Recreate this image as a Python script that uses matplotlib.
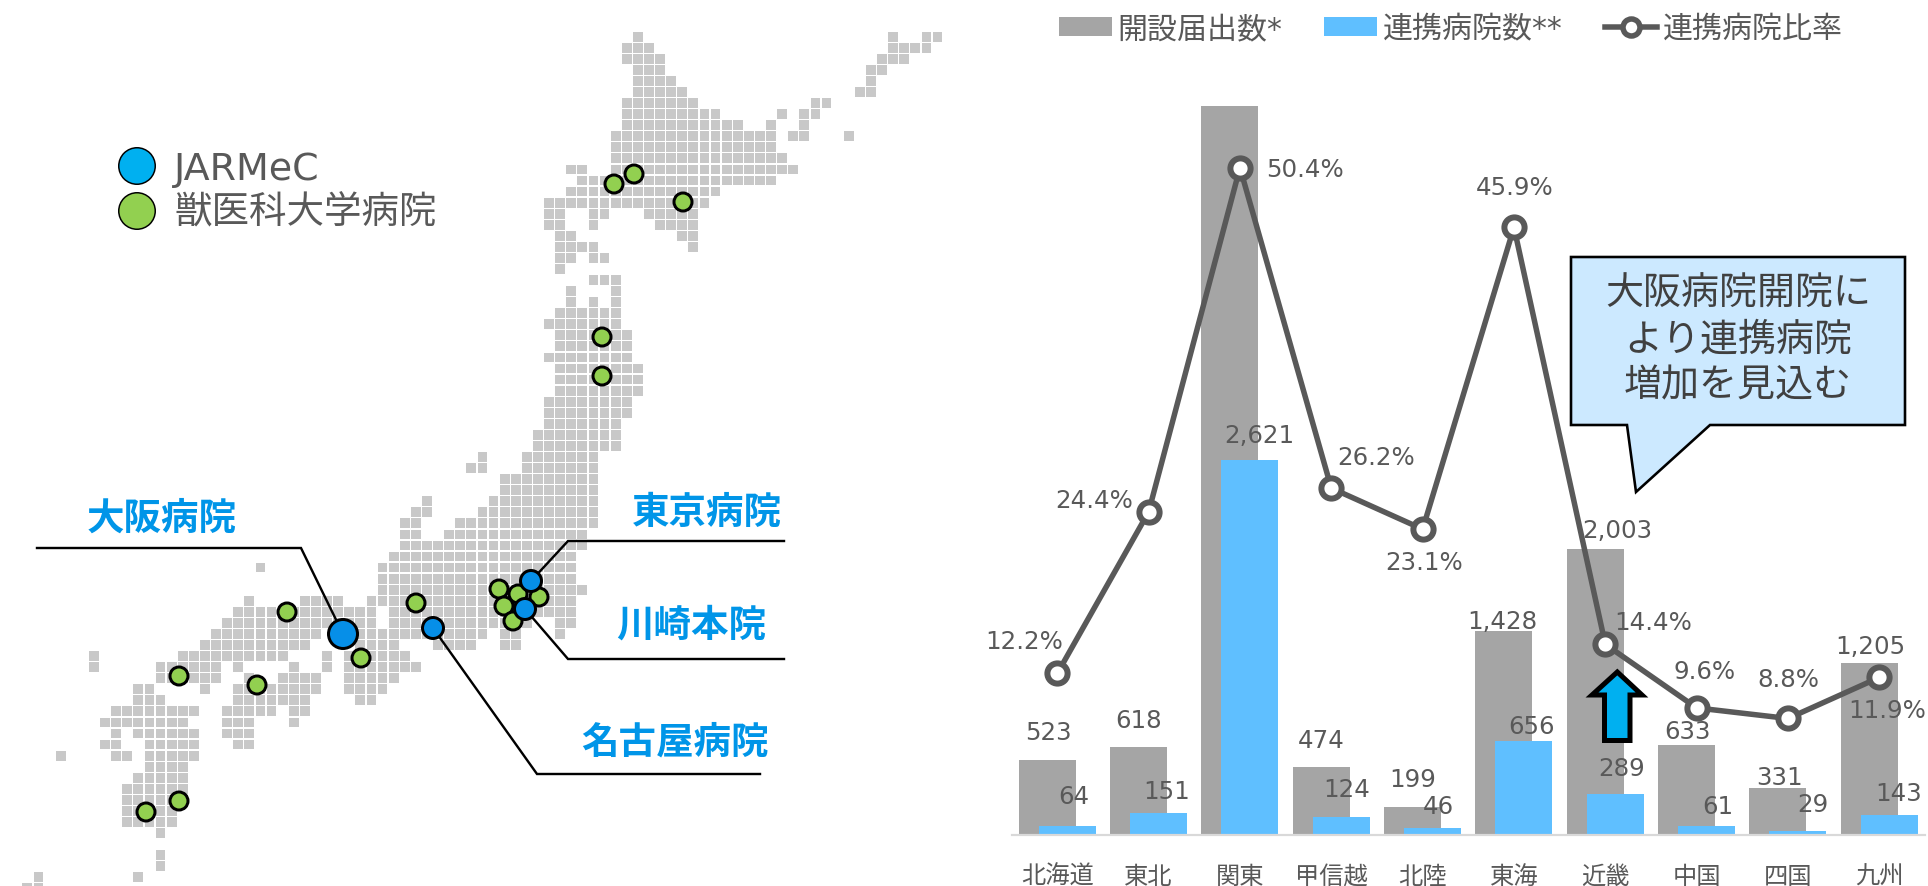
import matplotlib
matplotlib.use("Agg")
import matplotlib.pyplot as plt
from matplotlib.collections import PolyCollection
from matplotlib.lines import Line2D
from matplotlib.patches import Ellipse, Polygon, Patch

plt.rcParams['font.family'] = ['DejaVu Sans', 'Noto Sans CJK JP']

W, H = 1928, 887
PT = 72 / 100  # points per pixel at dpi 100

# ---------- chart data ----------
regions = ['北海道', '東北', '関東', '甲信越', '北陸', '東海', '近畿', '中国', '四国', '九州']
notified = [523, 618, 5200, 474, 199, 1428, 2003, 633, 331, 1205]
partners = [64, 151, 2621, 124, 46, 656, 289, 61, 29, 143]
ratio_pct = [12.2, 24.4, 50.4, 26.2, 23.1, 45.9, 14.4, 9.6, 8.8, 11.9]

series_names = ['開設届出数*', '連携病院数**', '連携病院比率']
callout_lines = ['大阪病院開院に', 'より連携病院', '増加を見込む']

# label centres in reference pixels (None: no visible label)
notified_label_px = [(1048, 733), (1139, 721), None, (1321, 741), (1413, 780),
                     (1502, 622), (1617, 531), (1688, 732), (1779, 778), (1870, 647)]
partners_label_px = [(1074, 797), (1167, 792), (1259, 436), (1347, 790), (1438, 807),
                     (1532, 727), (1622, 769), (1718, 807), (1813, 805), (1899, 794)]
ratio_label_px = [(1024, 642), (1094, 501), (1305, 170), (1376, 458), (1424, 563),
                  (1515, 188), (1653, 623), (1705, 672), (1788, 680), (1887, 711)]

# ---------- map data: row index -> occupied column runs ----------
map_rows = {
    0: [(8, 8), (31, 31), (34, 35)], 1: [(7, 9), (31, 34)], 2: [(7, 10), (30, 32)],
    3: [(8, 10), (29, 30)], 4: [(8, 11), (29, 29)], 5: [(8, 12), (28, 29)],
    6: [(7, 13), (24, 25)], 7: [(7, 15), (21, 21), (23, 24)], 8: [(7, 17), (20, 20), (23, 23)],
    9: [(6, 20), (22, 23), (27, 27)], 10: [(6, 20)], 11: [(6, 21)],
    12: [(2, 3), (6, 22)], 13: [(3, 20)], 14: [(2, 15)], 15: [(0, 14)],
    16: [(0, 1), (4, 5), (9, 13)], 17: [(0, 1), (4, 4), (10, 13)], 18: [(1, 2), (12, 13)],
    19: [(1, 4), (13, 13)], 20: [(1, 2), (4, 5)], 21: [(1, 1)], 22: [(4, 6)],
    23: [(2, 2), (6, 6)], 24: [(2, 2), (4, 4), (6, 6)], 25: [(1, 6)], 26: [(0, 6)],
    27: [(1, 7)], 28: [(1, 7)], 29: [(0, 7)], 30: [(1, 8)], 31: [(1, 8)], 32: [(1, 8)],
    33: [(0, 7)], 34: [(0, 7)], 35: [(0, 6)], 36: [(-1, 6)], 37: [(-1, 6)],
    38: [(-6, -6), (-2, 4)], 39: [(-7, -6), (-2, 4)], 40: [(-4, 4)], 41: [(-4, 4)],
    42: [(-11, -11), (-5, 4)], 43: [(-12, -11), (-6, 4)], 44: [(-13, -12), (-8, 4)],
    45: [(-13, -12), (-9, 3)], 46: [(-13, 3)], 47: [(-14, 2)], 48: [(-26, -26), (-15, 2)],
    49: [(-15, 2)], 50: [(-15, 3)], 51: [(-27, -27), (-22, -19), (-16, 2)],
    52: [(-28, -16), (-14, 2)], 53: [(-29, -16), (-14, -2), (1, 2)],
    54: [(-30, -21), (-17, -6), (-4, -3), (1, 1)],
    55: [(-31, -22), (-17, -14), (-10, -7), (-4, -3)],
    56: [(-41, -41), (-33, -24), (-20, -20), (-18, -13)],
    57: [(-41, -41), (-35, -30), (-28, -28), (-23, -23), (-20, -20), (-18, -12)],
    58: [(-35, -30), (-27, -27), (-24, -21), (-18, -14)],
    59: [(-37, -36), (-31, -31), (-28, -21), (-18, -15)],
    60: [(-37, -35), (-28, -22), (-17, -16)],
    61: [(-39, -32), (-29, -25), (-23, -22)],
    62: [(-40, -33), (-29, -27), (-23, -23)],
    63: [(-39, -39), (-37, -32), (-29, -27)],
    64: [(-40, -39), (-36, -32), (-28, -27)],
    65: [(-44, -44), (-39, -38), (-36, -32)],
    66: [(-36, -33)], 67: [(-37, -33)], 68: [(-38, -33)],
    69: [(-38, -34)], 70: [(-38, -34)], 71: [(-38, -34)],
    72: [(-35, -35)], 74: [(-35, -35)], 75: [(-35, -35)],
    76: [(-46, -46), (-37, -37)], 77: [(-47, -46)],
}

# hospital markers in reference pixels
vet_hospitals = [(614, 185), (634, 175), (683, 203), (602, 338), (602, 377),
                 (287, 613), (257, 686), (361, 659), (416, 604),
                 (179, 677), (179, 802), (146, 813),
                 (499, 590), (518, 595), (539, 598), (504, 607), (513, 622)]
jarmec_hospitals = [(433, 629, 24), (531, 582, 24), (525, 610, 24), (343, 635, 32)]

# ---------- figure and layers ----------
fig = plt.figure(figsize=(W / 100, H / 100), dpi=100, facecolor='white')

base = fig.add_axes([0, 0, 1, 1], zorder=0)
base.set_xlim(0, W)
base.set_ylim(H, 0)
base.axis('off')
px = base.transData

# ---------- map ----------
CX0, CY0, PITCH_X, PITCH_Y, CELL = 549.0, 37.7, 11.1, 11.06, 9.8
cells = []
for r, runs in map_rows.items():
    for a, b in runs:
        for k in range(a, b + 1):
            x = CX0 + PITCH_X * k
            y = CY0 + PITCH_Y * r
            h = CELL / 2
            cells.append([(x - h, y - h), (x + h, y - h), (x + h, y + h), (x - h, y + h)])
base.add_collection(PolyCollection(cells, facecolors='#C8C8C8', edgecolors='none', zorder=1))


def dot(x, y, d, color, lw=3.0, z=3):
    base.add_patch(Ellipse((x, y), d - lw, d - lw, facecolor=color, edgecolor='black',
                           linewidth=lw * PT, zorder=z))


# leader lines
LINE = dict(color='black', lw=2.4 * PT, zorder=2, solid_joinstyle='miter')
base.plot([37, 301, 343], [549, 549, 635], **LINE)
base.plot([531, 568, 784], [582, 542, 542], **LINE)
base.plot([525, 568, 784], [610, 660, 660], **LINE)
base.plot([433, 537, 760], [629, 775, 775], **LINE)

for x, y in vet_hospitals:
    dot(x, y, 21, '#92D050')
for x, y, d in jarmec_hospitals:
    dot(x, y, d, '#068FE8', z=4)

# map legend
dot(137, 167, 38, '#00B0F0', lw=1.5)
dot(137, 212, 38, '#92D050', lw=1.5)
base.text(174, 170, 'JARMeC', fontsize=38 * PT, color='#595959', va='center', ha='left')
base.text(174, 213, '獣医科大学病院', fontsize=37.5 * PT, color='#595959', va='center', ha='left')

# site names
NAME = dict(fontsize=37.5 * PT, color='#0095E8', fontweight='bold', ha='center', va='center')
base.text(161.5, 520, '大阪病院', **NAME)
base.text(706.5, 514, '東京病院', **NAME)
base.text(691.5, 627, '川崎本院', **NAME)
base.text(675, 744, '名古屋病院', **NAME)

# ---------- chart ----------
L, R, T, B = 1011.6, 1925.0, 107.0, 836.0
ax = fig.add_axes([L / W, 1 - B / H, (R - L) / W, (B - T) / H], zorder=1)
ax.patch.set_alpha(0)
xs = list(range(len(regions)))
BW, OFF = 0.624, 0.1095
bars_a = ax.bar([x - OFF for x in xs], notified, width=BW, color='#A5A5A5', zorder=1)
bars_b = ax.bar([x + OFF for x in xs], partners, width=BW, color='#5FBFFF', zorder=2)
ax.set_xlim(-0.5, 9.5)
ax.set_ylim(0, 5101)
ax.set_xticks(xs)
ax.set_xticklabels(regions, fontsize=24.3 * PT, color='#595959')
ax.set_yticks([])
ax.tick_params(axis='x', length=0, pad=29 * PT)
for s in ('top', 'left', 'right'):
    ax.spines[s].set_visible(False)
ax.spines['bottom'].set_color('#D9D9D9')
ax.spines['bottom'].set_linewidth(2.2 * PT)

LAB = dict(fontsize=24.5 * PT, color='#595959', ha='center', va='center', transform=px, zorder=5)
for v, p in zip(notified, notified_label_px):
    if p is not None:
        ax.text(p[0], p[1], f'{v:,}', **LAB)
for v, p in zip(partners, partners_label_px):
    ax.text(p[0], p[1], f'{v:,}', **LAB)

ax2 = ax.twinx()
ax2.set_zorder(2)
ax2.patch.set_alpha(0)
ax2.set_ylim(0, 55.06)
ax2.set_yticks([])
for s in ax2.spines.values():
    s.set_visible(False)
ax2.plot(xs, ratio_pct, color='#595959', lw=5.5 * PT, marker='o', markersize=20.2 * PT,
         markerfacecolor='white', markeredgecolor='#595959', markeredgewidth=6 * PT,
         clip_on=False)

# ---------- top layer: percent labels, callout, arrow ----------
top = fig.add_axes([0, 0, 1, 1], zorder=3)
top.set_xlim(0, W)
top.set_ylim(H, 0)
top.axis('off')
for v, p in zip(ratio_pct, ratio_label_px):
    top.text(p[0], p[1], f'{v:.1f}%', fontsize=24.5 * PT, color='#595959', ha='center', va='center')

top.add_patch(Polygon([(1571, 258), (1905, 258), (1905, 426), (1710, 426), (1636, 493),
                       (1627, 426), (1571, 426)], closed=True, facecolor='#CCE9FF',
                      edgecolor='black', linewidth=2.6 * PT, joinstyle='miter'))
for line, y in zip(callout_lines, (295, 341, 386)):
    top.text(1738, y, line, fontsize=38 * PT, color='#404040', ha='center', va='center')

top.add_patch(Polygon([(1617.3, 673), (1642, 696), (1630, 696), (1630, 741.5), (1604.5, 741.5),
                       (1604.5, 696), (1592, 696)], closed=True, facecolor='#00B0F0',
                      edgecolor='black', linewidth=5 * PT, joinstyle='miter'))

# ---------- series legend ----------
handles = [
    Patch(facecolor='#A5A5A5', label=series_names[0]),
    Patch(facecolor='#5FBFFF', label=series_names[1]),
    Line2D([0], [0], color='#595959', lw=5.5 * PT, marker='o', markersize=17 * PT,
           markerfacecolor='white', markeredgecolor='#595959', markeredgewidth=5.5 * PT,
           label=series_names[2]),
]
FS = 30 * PT
top.legend(handles=handles, ncol=3, loc='center left', bbox_to_anchor=(1059 / W, 1 - 29.5 / H),
           bbox_transform=fig.transFigure, frameon=False, fontsize=FS, labelcolor='#595959',
           handlelength=1.75, handleheight=0.6, handletextpad=0.2, columnspacing=1.4,
           borderpad=0, borderaxespad=0)

fig.savefig('out.png', dpi=100, facecolor='white')
